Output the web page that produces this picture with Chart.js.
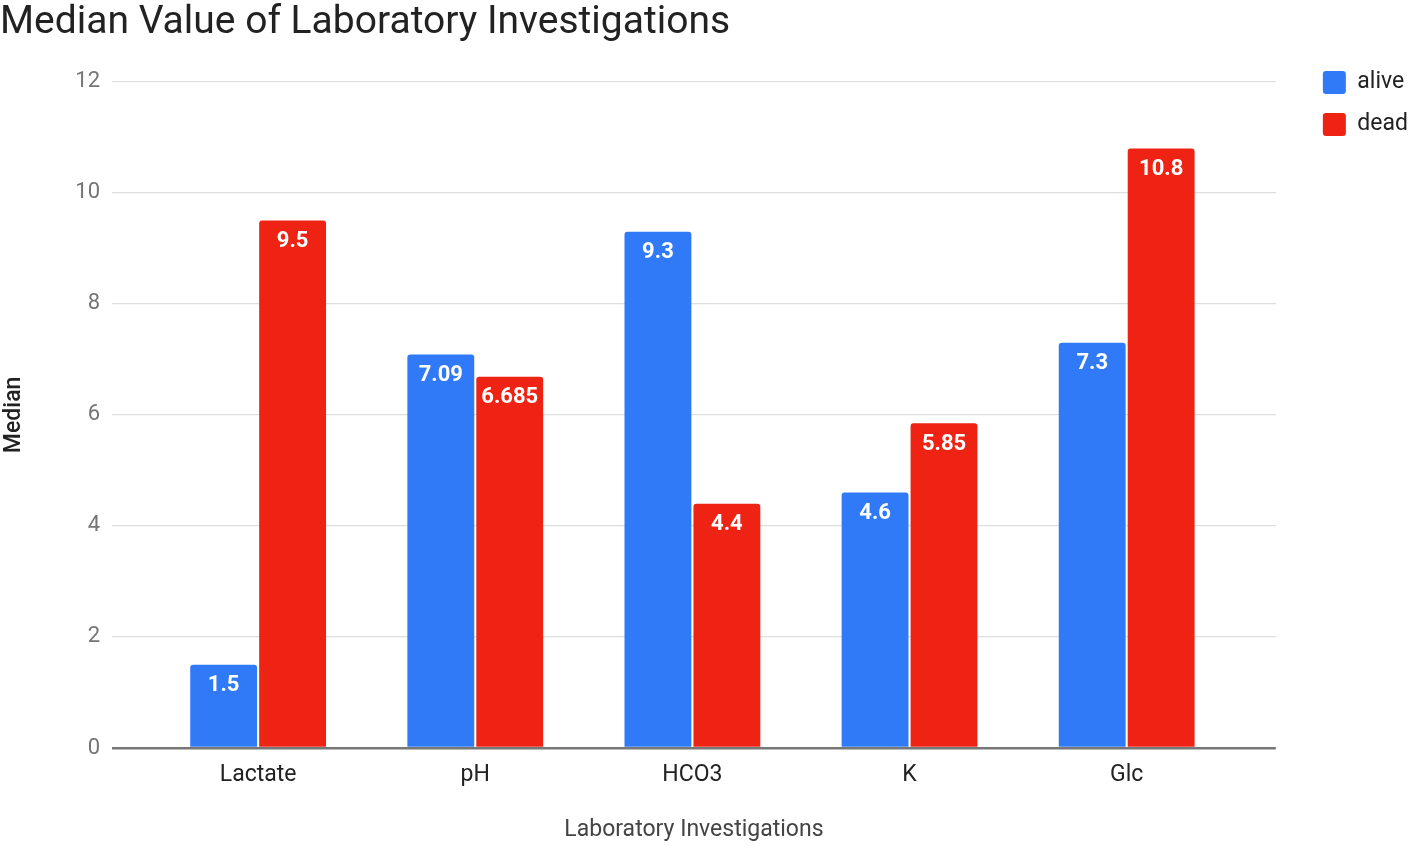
<!DOCTYPE html>
<html>
<head>
<meta charset="utf-8">
<script src="https://cdn.jsdelivr.net/npm/chart.js@4"></script>
<style>
  html, body { margin: 0; padding: 0; background: #fff; }
  #wrap { width: 1418px; height: 846px; position: relative; }
</style>
</head>
<body>
<div id="wrap"><canvas id="c" width="1418" height="846"></canvas></div>
<script>
const categories = ['Lactate', 'pH', 'HCO3', 'K', 'Glc'];
const aliveValues = [1.5, 7.09, 9.3, 4.6, 7.3];
const deadValues = [9.5, 6.685, 4.4, 5.85, 10.8];
const aliveLabels = ['1.5', '7.09', '9.3', '4.6', '7.3'];
const deadLabels = ['9.5', '6.685', '4.4', '5.85', '10.8'];
const yTicks = [0, 2, 4, 6, 8, 10, 12];

const FONT = 'Roboto, "Open Sans", Arial, sans-serif';

const valueLabelPlugin = {
  id: 'valueLabels',
  afterDatasetsDraw(chart) {
    const ctx = chart.ctx;
    const labelSets = [aliveLabels, deadLabels];
    ctx.save();
    ctx.fillStyle = '#ffffff';
    ctx.font = 'bold 22px ' + FONT;
    ctx.textAlign = 'center';
    ctx.textBaseline = 'middle';
    chart.data.datasets.forEach((ds, di) => {
      const meta = chart.getDatasetMeta(di);
      meta.data.forEach((bar, i) => {
        ctx.fillText(labelSets[di][i], bar.x, bar.y + 21);
      });
    });
    ctx.restore();
  }
};

new Chart(document.getElementById('c'), {
  type: 'bar',
  data: {
    datasets: [
      {
        label: 'alive',
        data: aliveValues.map((v, i) => ({ x: i, y: v })),
        backgroundColor: '#307af7',
        borderRadius: { topLeft: 3, topRight: 3 },
        borderSkipped: 'bottom'
      },
      {
        label: 'dead',
        data: deadValues.map((v, i) => ({ x: i, y: v })),
        backgroundColor: '#ee2314',
        borderRadius: { topLeft: 3, topRight: 3 },
        borderSkipped: 'bottom'
      }
    ]
  },
  options: {
    responsive: false,
    animation: false,
    categoryPercentage: 0.635,
    barPercentage: 0.97,
    layout: { padding: { left: 0, right: 0, top: 0, bottom: 0 } },
    plugins: {
      title: {
        display: true,
        text: 'Median Value of Laboratory Investigations',
        align: 'start',
        color: '#222',
        font: { family: FONT, size: 39, weight: 'normal' },
        padding: { top: 0, bottom: 35 }
      },
      legend: {
        position: 'right',
        align: 'start',
        title: {
          display: true,
          text: ' ',
          font: { size: 10 },
          padding: { top: 0, bottom: 40 }
        },
        labels: {
          boxWidth: 23,
          boxHeight: 23,
          padding: 19,
          color: '#222',
          font: { family: FONT, size: 23 },
          useBorderRadius: true,
          borderRadius: 3
        }
      },
      tooltip: { enabled: false }
    },
    scales: {
      x: {
        type: 'linear',
        offset: false,
        min: -0.673,
        max: 4.687,
        afterBuildTicks: (axis) => { axis.ticks = categories.map((c, i) => ({ value: i })); },
        afterFit: (s) => { s.height = 98; },
        ticks: {
          autoSkip: false,
          maxRotation: 0,
          color: '#222',
          font: { family: FONT, size: 23 },
          padding: 5,
          callback: (v) => categories[v] !== undefined ? categories[v] : ''
        },
        grid: { display: false },
        border: { display: false },
        title: {
          display: true,
          text: 'Laboratory Investigations',
          color: '#444',
          font: { family: FONT, size: 23 },
          padding: { top: 20, bottom: 2 }
        }
      },
      y: {
        min: 0,
        max: 12,
        afterBuildTicks: (axis) => { axis.ticks = yTicks.map(v => ({ value: v })); },
        afterFit: (s) => { s.width = 112; },
        ticks: {
          color: '#757575',
          font: { family: FONT, size: 22 },
          padding: 12
        },
        grid: {
          drawTicks: false,
          color: (c) => c.tick && c.tick.value === 0 ? '#777' : '#dedede',
          lineWidth: (c) => c.tick && c.tick.value === 0 ? 2.5 : 1.2
        },
        border: { display: false },
        title: {
          display: true,
          text: 'Median',
          color: '#222',
          font: { family: FONT, size: 23, weight: '500' },
          padding: { top: 0, bottom: 20 }
        }
      },
      yRight: {
        position: 'right',
        display: true,
        afterFit: (s) => { s.width = 28; },
        ticks: { display: false },
        grid: { display: false },
        border: { display: false }
      }
    }
  },
  plugins: [valueLabelPlugin]
});
</script>
</body>
</html>
